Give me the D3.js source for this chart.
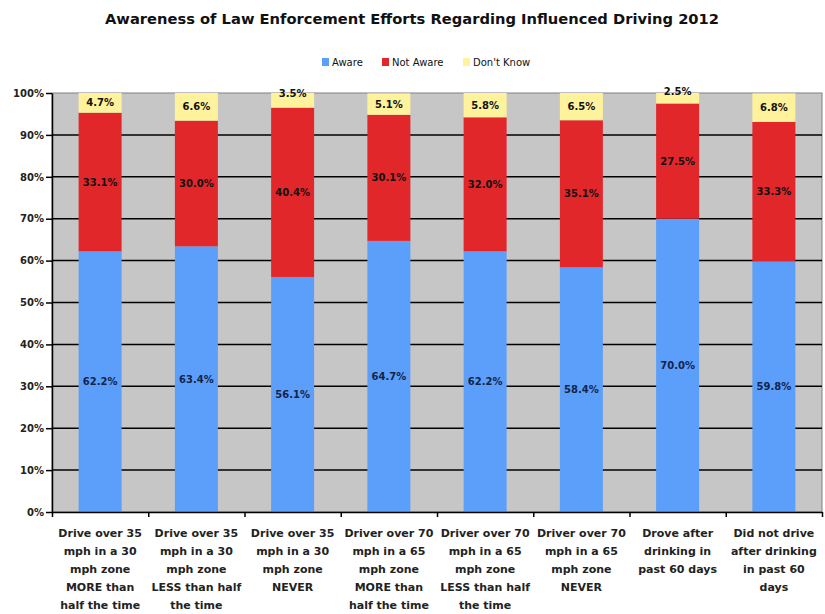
<!DOCTYPE html>
<html>
<head>
<meta charset="utf-8">
<script src="https://cdn.jsdelivr.net/npm/d3@7"></script>
<style>
  body { margin: 0; background: #fff; }
  svg { display: block; font-family: "DejaVu Sans", Verdana, sans-serif; }
</style>
</head>
<body>
<svg id="chart" width="825" height="614"></svg>
<script>
(function() {
    // categories, one array of lines per bar
    var categories = [
        ["Drive over 35", "mph in a 30", "mph zone", "MORE than", "half the time"],
        ["Drive over 35", "mph in a 30", "mph zone", "LESS than half", "the time"],
        ["Drive over 35", "mph in a 30", "mph zone", "NEVER"],
        ["Driver over 70", "mph in a 65", "mph zone", "MORE than", "half the time"],
        ["Driver over 70", "mph in a 65", "mph zone", "LESS than half", "the time"],
        ["Driver over 70", "mph in a 65", "mph zone", "NEVER"],
        ["Drove after", "drinking in", "past 60 days"],
        ["Did not drive", "after drinking", "in past 60", "days"]
    ]
    var seriesNames = ["Aware", "Not Aware", "Don't Know"]
    var aware    = [62.2, 63.4, 56.1, 64.7, 62.2, 58.4, 70.0, 59.8]
    var notAware = [33.1, 30.0, 40.4, 30.1, 32.0, 35.1, 27.5, 33.3]
    var dontKnow = [4.7, 6.6, 3.5, 5.1, 5.8, 6.5, 2.5, 6.8]
    var yTicks = [0, 10, 20, 30, 40, 50, 60, 70, 80, 90, 100]

    var colors = ["#5b9ffb", "#e2272b", "#fff29c"]

    // build rows for d3.stack
    var rows = categories.map(function(c, i) {
        var r = { idx: i }
        r[seriesNames[0]] = aware[i]
        r[seriesNames[1]] = notAware[i]
        r[seriesNames[2]] = dontKnow[i]
        return r
    })

    var left = 52, right = 822, top = 93, bottom = 512

    var svg = d3.select("#chart")

    var x = d3.scaleBand().domain(d3.range(categories.length)).range([left, right]).paddingInner(0).paddingOuter(0)
    var xb = d3.scaleLinear().domain([0, categories.length]).range([left, right])
    var y = d3.scaleLinear().domain([0, 100]).range([bottom, top])

    // title
    svg.append("text")
        .attr("x", 412).attr("y", 24)
        .attr("text-anchor", "middle")
        .attr("font-size", "14.7px").attr("font-weight", "bold").attr("fill", "#111")
        .text("Awareness of Law Enforcement Efforts Regarding Influenced Driving 2012")

    // legend
    var legendX = [322, 382, 463]
    var lg = svg.append("g").selectAll("g").data(seriesNames).join("g")
        .attr("transform", function(d, i) { return "translate(" + legendX[i] + ",58)" })
    lg.append("rect").attr("width", 7).attr("height", 8).attr("fill", function(d, i) { return colors[i] })
    lg.append("text").attr("x", 10).attr("y", 8)
        .attr("font-size", "10px").attr("fill", "#111")
        .text(function(d) { return d })

    // plot background
    svg.append("rect")
        .attr("x", left).attr("y", top).attr("width", right - left).attr("height", bottom - top)
        .attr("fill", "#c6c6c6").attr("stroke", "#808080").attr("stroke-width", 1)

    // gridlines
    svg.append("g").selectAll("line").data(yTicks.slice(1, -1)).join("line")
        .attr("x1", left).attr("x2", right)
        .attr("y1", function(d) { return y(d) }).attr("y2", function(d) { return y(d) })
        .attr("stroke", "#000").attr("stroke-width", 1.5)

    // bars
    var stack = d3.stack().keys(seriesNames)
    var series = stack(rows)
    var barW = 43

    var layers = svg.append("g").selectAll("g").data(series).join("g")
        .attr("fill", function(d, i) { return colors[i] })
    layers.selectAll("rect").data(function(d) { return d }).join("rect")
        .attr("x", function(d) { return x(d.data.idx) + x.bandwidth() / 2 - barW / 2 })
        .attr("width", barW)
        .attr("y", function(d) { return y(d[1]) })
        .attr("height", function(d) { return y(d[0]) - y(d[1]) })

    // data labels
    layers.selectAll("text").data(function(d) { return d.map(function(p) { return { p: p, key: d.key } }) }).join("text")
        .attr("x", function(d) { return x(d.p.data.idx) + x.bandwidth() / 2 })
        .attr("y", function(d) {
            var h = y(d.p[0]) - y(d.p[1])
            var c = (y(d.p[0]) + y(d.p[1])) / 2
            return c + (h < 16 ? -7 : 0)
        })
        .attr("dy", "0.35em")
        .attr("text-anchor", "middle")
        .attr("font-size", "10px").attr("font-weight", "bold")
        .attr("fill", function(d) { return d.key === "Aware" ? "#14244a" : "#111" })
        .text(function(d) { return d.p.data[d.key].toFixed(1) + "%" })

    // y axis
    var yAxis = svg.append("g").attr("transform", "translate(" + left + ",0)")
        .call(d3.axisLeft(y).tickValues(yTicks).tickFormat(function(d) { return d + "%" }).tickSize(6).tickSizeOuter(0))
    yAxis.select(".domain").attr("stroke", "#000").attr("stroke-width", 1.5)
    yAxis.selectAll(".tick line").attr("stroke", "#000").attr("stroke-width", 1.5)
    yAxis.selectAll(".tick text")
        .attr("x", -8).attr("font-size", "10px").attr("font-weight", "bold").attr("fill", "#222")
        .attr("font-family", "DejaVu Sans")

    // x axis (ticks at category boundaries)
    var xAxis = svg.append("g").attr("transform", "translate(0," + bottom + ")")
        .call(d3.axisBottom(xb).tickValues(d3.range(categories.length + 1)).tickFormat("").tickSize(5).tickSizeOuter(0))
    xAxis.select(".domain").attr("stroke", "#000").attr("stroke-width", 1.5)
    xAxis.selectAll(".tick line").attr("stroke", "#000").attr("stroke-width", 1.5)

    // category labels
    var cl = svg.append("g").selectAll("text").data(categories).join("text")
        .attr("text-anchor", "middle")
        .attr("font-size", "11px").attr("font-weight", "bold").attr("fill", "#222")
    cl.selectAll("tspan").data(function(d, i) { return d.map(function(l) { return { l: l, i: i } }) }).join("tspan")
        .attr("x", function(d) { return x(d.i) + x.bandwidth() / 2 })
        .attr("y", function(d, j) { return 537 + j * 18 })
        .text(function(d) { return d.l })
})();
</script>
</body>
</html>
